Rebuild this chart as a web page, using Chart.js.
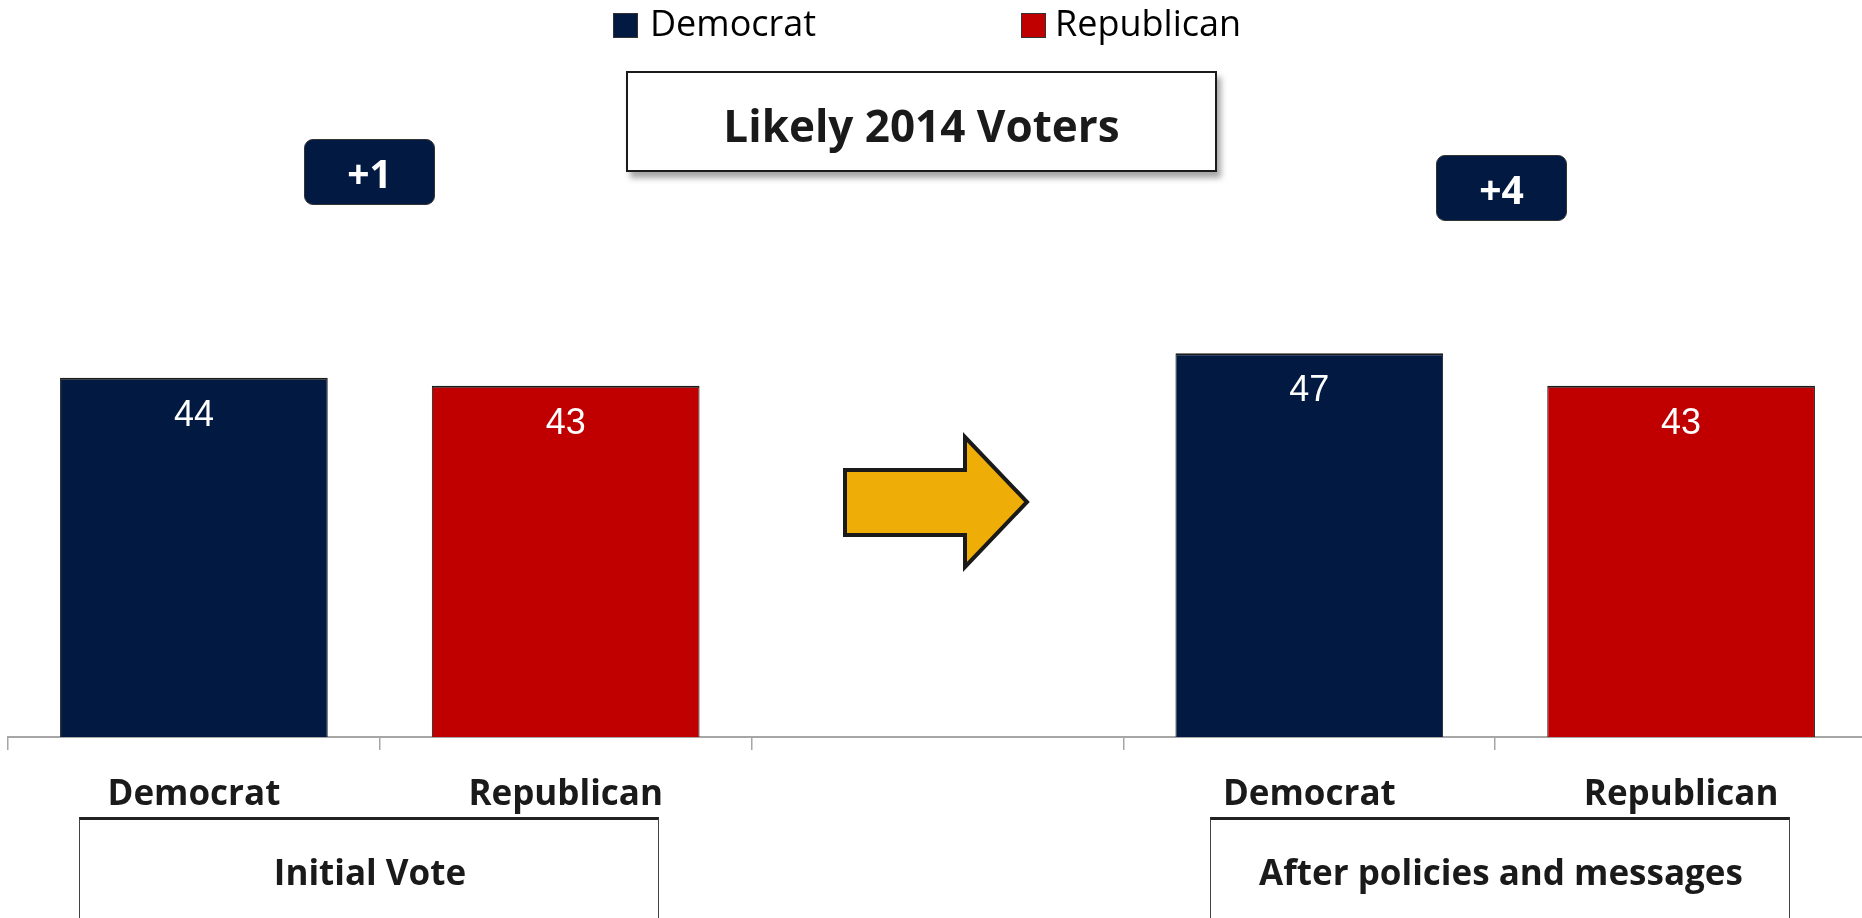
<!DOCTYPE html>
<html>
<head>
<meta charset="utf-8">
<title>Likely 2014 Voters</title>
<script src="https://cdn.jsdelivr.net/npm/chart.js@4/dist/chart.umd.min.js"></script>
<style>
  html, body { margin: 0; padding: 0; background: #fff; overflow: hidden; }
  body { width: 1862px; height: 918px; position: relative; font-family: "Open Sans", sans-serif; }
  .chart-wrap { position: absolute; left: 0; top: 0; width: 1870px; height: 918px; }
  .txt { position: absolute; line-height: 1; white-space: nowrap; color: #1a1a1a; }
  .legend-box { position: absolute; width: 23px; height: 23px; border: 1px solid #333; }
  .title-box {
    position: absolute; left: 626px; top: 71px; width: 587px; height: 97px;
    border: 2px solid #1a1a1a; background: #fff;
    box-shadow: 4px 6px 6px rgba(0, 0, 0, 0.35);
  }
  .diff-box {
    position: absolute; width: 129px; height: 64px; background: #021a42;
    border: 1px solid #333; border-radius: 9px;
  }
  .group-box {
    position: absolute; top: 817px; width: 578px; height: 140px;
    border: 1.5px solid #444; border-top: 3px solid #222; background: #fff;
  }
</style>
</head>
<body>
<div class="chart-wrap"><canvas id="voteChart"></canvas></div>

<div id="legend"></div>

<div class="title-box"></div>
<div class="txt" style="left:0;width:1843px;text-align:center;top:103px;font-size:44px;font-weight:700;">Likely 2014 Voters</div>

<div class="diff-box" style="left:304px;top:139px;"></div>
<div class="txt" style="left:304px;width:131px;text-align:center;top:153px;font-size:39px;font-weight:700;color:#fff;">+1</div>
<div class="diff-box" style="left:1436px;top:155px;"></div>
<div class="txt" style="left:1436px;width:131px;text-align:center;top:169px;font-size:39px;font-weight:700;color:#fff;">+4</div>

<div class="group-box" style="left:79px;"></div>
<div class="txt" style="left:79px;width:582px;text-align:center;top:854px;font-size:35px;font-weight:700;">Initial Vote</div>
<div class="group-box" style="left:1210px;"></div>
<div class="txt" style="left:1210px;width:582px;text-align:center;top:854px;font-size:35px;font-weight:700;">After policies and messages</div>

<svg width="1862" height="918" style="position:absolute;left:0;top:0;pointer-events:none;">
  <polygon points="845,470 965,470 965,437 1027,502 965,567 965,535 845,535"
           fill="#efad08" stroke="#1a1a1a" stroke-width="4" stroke-linejoin="miter"/>
</svg>

<script>
// categories along the x axis (the middle slot is the gap with the arrow)
const categories = ['Democrat', 'Republican', '', 'Democrat', 'Republican'];

// series values, null where the series has no bar
const democratValues = [44, null, null, 47, null];
const republicanValues = [null, 43, null, null, 43];

const seriesNames = ['Democrat', 'Republican'];
const seriesColors = ['#021a42', '#c00000'];

const yMax = 60;

// white value labels inside the top of each bar
const valueLabels = {
  id: 'valueLabels',
  afterDatasetsDraw(chart) {
    const ctx = chart.ctx;
    ctx.save();
    ctx.font = '36px "Liberation Sans", Arial, sans-serif';
    ctx.fillStyle = '#ffffff';
    ctx.textAlign = 'center';
    ctx.textBaseline = 'alphabetic';
    chart.data.datasets.forEach((ds, di) => {
      const meta = chart.getDatasetMeta(di);
      meta.data.forEach((bar, i) => {
        const v = ds.data[i];
        if (v === null || v === undefined) return;
        ctx.fillText(String(v), bar.x, bar.y + 48);
      });
    });
    ctx.restore();
  }
};

function buildLegend(chart) {
  const el = document.getElementById('legend');
  const pos = [{ box: 613, text: 650 }, { box: 1021, text: 1055 }];
  chart.data.datasets.forEach((ds, i) => {
    const box = document.createElement('div');
    box.className = 'legend-box';
    box.style.left = pos[i].box + 'px';
    box.style.top = '13px';
    box.style.background = ds.backgroundColor;
    el.appendChild(box);

    const label = document.createElement('div');
    label.className = 'txt';
    label.style.left = pos[i].text + 'px';
    label.style.top = '5px';
    label.style.fontSize = '36px';
    label.style.color = '#000';
    label.textContent = ds.label;
    el.appendChild(label);
  });
}

const chart = new Chart(document.getElementById('voteChart'), {
  type: 'bar',
  data: {
    labels: categories,
    datasets: [
      {
        label: seriesNames[0],
        data: democratValues,
        backgroundColor: seriesColors[0],
        borderColor: '#1c1c1c',
        borderWidth: { top: 2, left: 1, right: 1, bottom: 0 }
      },
      {
        label: seriesNames[1],
        data: republicanValues,
        backgroundColor: seriesColors[1],
        borderColor: '#1c1c1c',
        borderWidth: { top: 2, left: 1, right: 1, bottom: 0 }
      }
    ]
  },
  options: {
    responsive: true,
    maintainAspectRatio: false,
    animation: false,
    barPercentage: 0.72,
    categoryPercentage: 1.0,
    layout: {
      padding: { top: 247, bottom: 0, left: 8, right: 3 }
    },
    scales: {
      x: {
        stacked: true,
        grid: {
          offset: true,
          drawOnChartArea: false,
          tickLength: 13,
          color: '#a6a6a6',
          lineWidth: 1.5
        },
        border: { display: true, color: '#a6a6a6', width: 2 },
        ticks: {
          color: '#1a1a1a',
          padding: 24,
          maxRotation: 0,
          autoSkip: false,
          font: { family: '"Open Sans", sans-serif', size: 35, weight: 'bold' }
        },
        afterFit(scale) {
          scale.height = 181;
        }
      },
      y: {
        stacked: true,
        display: false,
        min: 0,
        max: yMax
      }
    },
    plugins: {
      legend: { display: false },
      tooltip: { enabled: false }
    }
  },
  plugins: [valueLabels]
});

buildLegend(chart);
</script>
</body>
</html>
